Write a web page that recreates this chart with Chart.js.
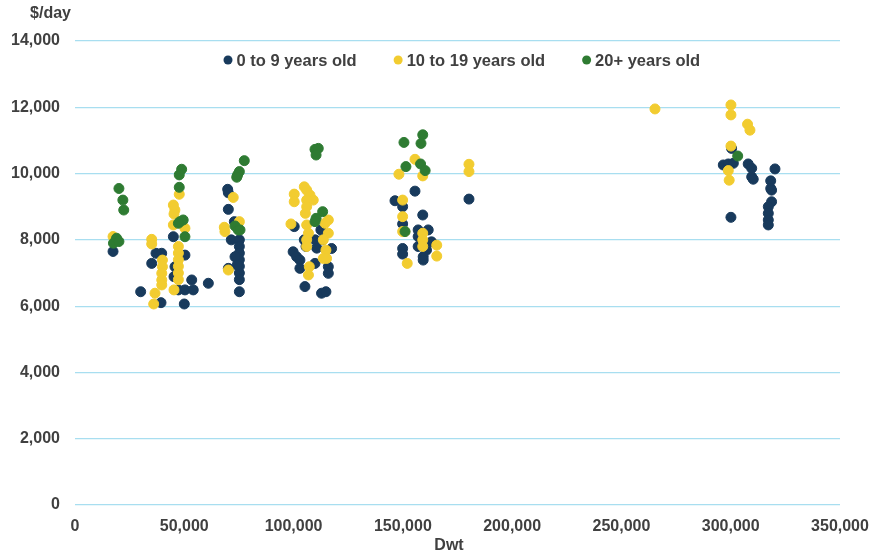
<!DOCTYPE html>
<html><head><meta charset="utf-8">
<script src="https://cdn.jsdelivr.net/npm/chart.js@4"></script>
<style>html,body{margin:0;padding:0;background:#fff;}#wrap{width:872px;height:554px;position:relative;}</style>
</head><body><div id="wrap"><canvas id="c" width="872" height="554"></canvas></div>
<script>
// ---- data ----
const seriesLabels = ['0 to 9 years old', '10 to 19 years old', '20+ years old'];
const seriesColors = ['#183a5c', '#f2cc30', '#2e7b32'];
const yTitle = '$/day';
const xTitle = 'Dwt';
const xTickValues = [0, 50000, 100000, 150000, 200000, 250000, 300000, 350000];
const yTickValues = [0, 2000, 4000, 6000, 8000, 10000, 12000, 14000];

const youngDwt = [17400, 30050, 37060, 39660, 35100, 39350, 45000, 50300, 45750, 45300, 47300, 50300, 53400, 54100, 50000, 61000,
  69850, 70150, 70150, 72900, 71500, 75200, 75200, 75200, 75200, 75200, 75200, 75200, 73200, 74200, 70150, 75200,
  100300, 104900, 105700, 112500, 113300, 109900, 110600, 117400, 99800, 101400, 102900, 109800, 115900, 115900, 102900, 105200, 112800, 114800,
  146400, 155550, 149900, 149900, 159100, 157000, 161600, 157000, 163100, 157000, 160800, 159300, 159300, 149900, 149900, 180250,
  296600, 298900, 301200, 300400, 308000, 309600, 309600, 310300, 320250, 318300, 318300, 318700, 318700, 317200, 317200, 317200, 317200, 300100];
const youngRate = [7650, 6435, 7595, 7595, 7290, 6105, 8095, 7540, 7190, 6890, 6490, 6490, 6790, 6490, 6065, 6690,
  9525, 9420, 8920, 8550, 8000, 8000, 7800, 7600, 7400, 7200, 7000, 6800, 7490, 7240, 7140, 6435,
  8400, 8000, 7800, 8300, 8000, 8000, 7750, 7740, 7640, 7490, 7390, 7290, 7190, 6990, 7140, 6590, 6390, 6435,
  9180, 9470, 9000, 8480, 8750, 8300, 8300, 8100, 7940, 7800, 7690, 7490, 7390, 7740, 7570, 9230,
  10260, 10290, 10310, 10760, 10290, 10160, 9900, 9830, 10140, 9780, 9550, 9500, 9150, 9000, 8800, 8600, 8450, 8680];

const midDwt = [17400, 35100, 35100, 40000, 40000, 39700, 39700, 39700, 36600, 36000,
  47700, 45000, 45700, 45300, 45000, 50300, 47300, 47300, 47300, 47300, 47300, 47300, 45300,
  72400, 75200, 68300, 68600, 70150,
  104900, 106000, 100300, 100300, 107500, 109000, 106000, 106000, 105400, 115900, 114400, 98800, 106000, 106800, 106000, 106000, 115900, 113600, 114800, 113600, 115100, 107200, 106800,
  155550, 148200, 159100, 149900, 149900, 149900, 150900, 159100, 159100, 159100, 165500, 165500, 152000, 180250, 180250,
  265350, 300100, 300100, 307700, 308800, 300100, 298900, 299300];
const midRate = [8100, 8015, 7875, 7390, 7190, 6990, 6790, 6640, 6390, 6065,
  9375, 9050, 8900, 8780, 8450, 8350, 7800, 7600, 7400, 7200, 7000, 6800, 6490,
  9280, 8550, 8380, 8250, 7090,
  9600, 9500, 9380, 9150, 9350, 9200, 9200, 9000, 8800, 8600, 8500, 8480, 8450, 8200, 8000, 7800, 8200, 8000, 7690, 7440, 7440, 7190, 6940,
  10430, 9980, 9930, 9200, 8700, 8250, 8250, 8200, 8000, 7800, 7840, 7510, 7290, 10280, 10060,
  11950, 12070, 11770, 11490, 11310, 10830, 10090, 9800];

const oldDwt = [20100, 21900, 22300, 17600, 19000, 20100,
  48800, 47700, 47700, 48000, 49500, 47300, 50300,
  77450, 75200, 74400, 74000, 73200, 74700, 75500,
  109800, 111300, 110300, 113300, 110300, 109800,
  150500, 159100, 158300, 151400, 158100, 160200, 151000,
  303200];
const oldRate = [9550, 9200, 8900, 7900, 8050, 7950,
  10130, 9960, 9585, 8550, 8600, 8500, 8095,
  10390, 10060, 9960, 9890, 8420, 8300, 8300,
  10730, 10760, 10560, 8850, 8650, 8550,
  10940, 11170, 10910, 10210, 10290, 10090, 8250,
  10530];

// ---- build ----
const zip = (xs, ys) => xs.map((x, i) => ({x: x, y: ys[i]}));
const seriesData = [zip(youngDwt, youngRate), zip(midDwt, midRate), zip(oldDwt, oldRate)];
const drawOrder = [2, 1, 0];
const textColor = '#404040';
const FONT = '"Liberation Sans", Arial, sans-serif';

const overlay = {
  id: 'overlay',
  afterDraw(chart) {
    const ctx = chart.ctx;
    ctx.save();
    ctx.font = 'bold 16px ' + FONT;
    ctx.fillStyle = textColor;
    ctx.textBaseline = 'middle';
    ctx.textAlign = 'center';
    ctx.fillText(yTitle, 50.5, 14);
    ctx.fillText(xTitle, 449, 546);
    // legend inside plot area
    ctx.font = 'bold 16.5px ' + FONT;
    ctx.textAlign = 'left';
    let x = 223.5;
    const y = 60;
    chart.data.datasets.forEach(ds => {
      ctx.fillStyle = ds.backgroundColor;
      ctx.beginPath();
      ctx.arc(x + 4.5, y, 4.5, 0, Math.PI * 2);
      ctx.fill();
      ctx.fillStyle = textColor;
      ctx.fillText(ds.label, x + 13, y + 1);
      x += 13 + ctx.measureText(ds.label).width + 37;
    });
    ctx.restore();
  }
};

new Chart(document.getElementById('c'), {
  type: 'scatter',
  data: {
    datasets: seriesLabels.map((l, i) => ({
      label: l,
      data: seriesData[i],
      backgroundColor: seriesColors[i],
      borderColor: seriesColors[i],
      borderWidth: 1,
      pointRadius: 5,
      pointHoverRadius: 5,
      order: drawOrder[i]
    }))
  },
  options: {
    responsive: false,
    devicePixelRatio: 1,
    animation: false,
    layout: {padding: {left: 11, right: 32, top: 41, bottom: 19}},
    plugins: {legend: {display: false}, tooltip: {enabled: false}},
    scales: {
      x: {
        type: 'linear', min: 0, max: 350000,
        afterBuildTicks: s => { s.ticks = xTickValues.map(v => ({value: v})); },
        afterFit: s => { s.height = 30; s.paddingLeft = 0; s.paddingRight = 0; },
        grid: {display: false, drawTicks: false},
        border: {display: false},
        ticks: {padding: 12, color: textColor, font: {family: FONT, size: 16, weight: 'bold'},
          maxRotation: 0, autoSkip: false, callback: v => v.toLocaleString('en-US')}
      },
      y: {
        type: 'linear', min: 0, max: 14000,
        afterBuildTicks: s => { s.ticks = yTickValues.map(v => ({value: v})); },
        afterFit: s => { s.width = 64; s.paddingTop = 0; s.paddingBottom = 0; },
        grid: {color: '#a8def0', lineWidth: 1.2, drawTicks: false},
        border: {display: false},
        ticks: {padding: 15, color: textColor, font: {family: FONT, size: 16, weight: 'bold'},
          autoSkip: false, callback: v => v.toLocaleString('en-US')}
      }
    }
  },
  plugins: [overlay]
});
</script></body></html>
